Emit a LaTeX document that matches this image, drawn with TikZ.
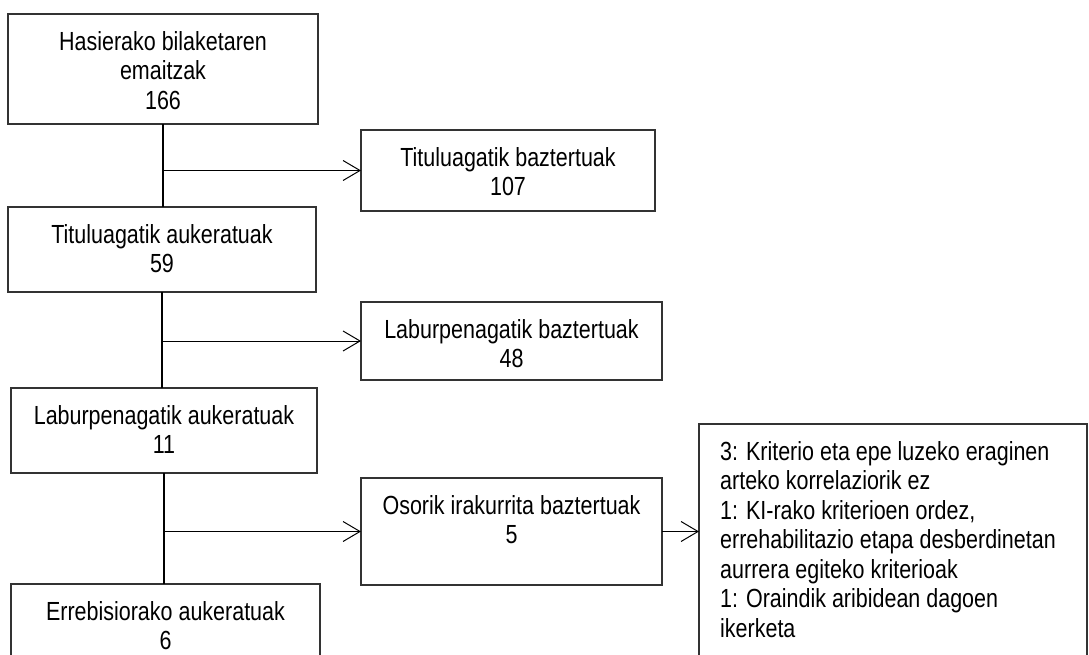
\documentclass[tikz,border=0pt]{standalone}
\usepackage{fontspec}
\setmainfont{Liberation Sans}[FakeStretch=0.82]
\usetikzlibrary{arrows.meta}

\begin{document}
\begin{tikzpicture}[x=1pt, y=-1pt,
	box/.style={draw=black!80, line width=1.2pt, inner sep=0pt, outer sep=0pt, anchor=north west},
	txt/.style={align=center, anchor=north, inner sep=0pt, font=\fontsize{26.2}{29.5}\selectfont},
	spine/.style={line width=2pt},
	branch/.style={line width=1pt, -{Straight Barb[length=17pt,width=20pt,line width=1pt]}}]
	\useasboundingbox (0,0) rectangle (1089,655);
	
	\node[box, minimum width=310pt, minimum height=110pt] (B1) at (8,14) {};
	\node[box, minimum width=294pt, minimum height=81pt] (B2) at (361,130) {};
	\node[box, minimum width=308pt, minimum height=85pt] (B3) at (8,207) {};
	\node[box, minimum width=301pt, minimum height=78pt] (B4) at (361,302) {};
	\node[box, minimum width=306pt, minimum height=85pt] (B5) at (11,388) {};
	\node[box, minimum width=301pt, minimum height=107pt] (B6) at (361,478) {};
	\node[box, minimum width=309pt, minimum height=90pt] (B7) at (11,584) {};
	\node[box, minimum width=388pt, minimum height=250pt] (RB) at (699,424) {};
	
	\node[txt] (T1) at ([yshift=-17pt]B1.north) {Hasierako bilaketaren\\emaitzak\\166};
	\node[txt] (T2) at ([yshift=-17pt]B2.north) {Tituluagatik baztertuak\\107};
	\node[txt] (T3) at ([yshift=-17pt]B3.north) {Tituluagatik aukeratuak\\59};
	\node[txt] (T4) at ([yshift=-17pt]B4.north) {Laburpenagatik baztertuak\\48};
	\node[txt] (T5) at ([yshift=-17pt]B5.north) {Laburpenagatik aukeratuak\\11};
	\node[txt] (T6) at ([yshift=-17pt]B6.north) {Osorik irakurrita baztertuak\\5};
	\node[txt] (T7) at ([yshift=-17pt]B7.north) {Errebisiorako aukeratuak\\6};
	\node[txt, align=left, anchor=north west] (TR) at ([xshift=21pt,yshift=-17pt]RB.north west) {3: Kriterio eta epe luzeko eraginen\\arteko korrelaziorik ez\\1: KI-rako kriterioen ordez,\\errehabilitazio etapa desberdinetan\\aurrera egiteko kriterioak\\1: Oraindik aribidean dagoen\\ikerketa};
	
	\draw[spine] (B1.south) -- (B1.south |- B3.north);
	\draw[spine] (B3.south) -- (B3.south |- B5.north);
	\draw[spine] (B5.south) -- (B5.south |- B7.north);
	
	\draw[branch] (B1.south |- B2.west) -- (B2.west);
	\draw[branch] (B3.south |- B4.west) -- (B4.west);
	\draw[branch] (B5.south |- B6.west) -- (B6.west);
	\draw[branch] (B6.east) -- (B6.east -| RB.west);
\end{tikzpicture}
\end{document}
